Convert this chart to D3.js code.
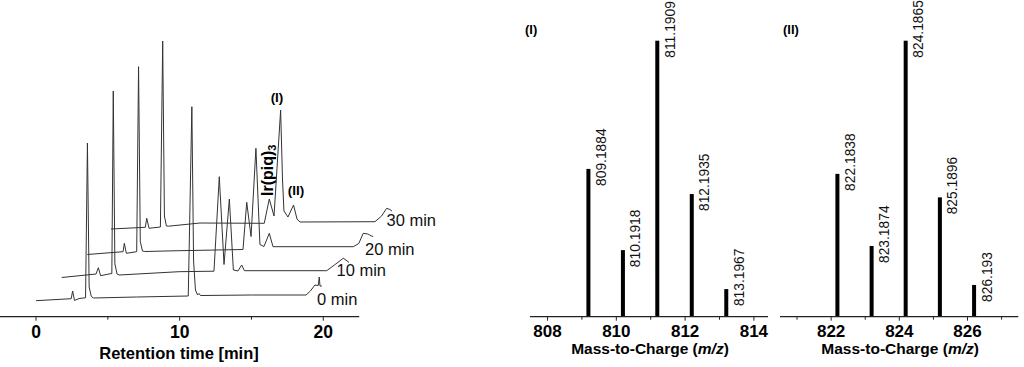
<!DOCTYPE html>
<html>
<head>
<meta charset="utf-8">
<script src="https://cdn.jsdelivr.net/npm/d3@7"></script>
<style>
  html, body { margin: 0; padding: 0; background: #fff; }
  svg { display: block; font-family: "Liberation Sans", Arial, sans-serif; }
</style>
</head>
<body>
<svg id="chart" width="1024" height="367"></svg>
<script>
// ---------------- data ----------------
const timeTicks = [0, 10, 20];
const timeMinorTicks = [5, 15];
const traceLabels = ["0 min", "10 min", "20 min", "30 min"];
const traceTimeOffsets = [0, 1.79, 3.57, 5.22];
const traceSignalOffsets = [0, 23.5, 46.5, 72];

const trace0 = [[0,0.3],[2.45,2.3],[2.55,10],[2.68,0.5],[3.0,2.5],[3.45,3.2],[3.58,158],[3.7,14],[3.85,4.5],[4.0,3],
  [7,4],[10.6,5],[10.85,194.3],[10.97,40],[11.1,11],[11.25,6],[11.35,7.5],[11.45,5.5],[15,6],[18.8,6],
  [19.1,10],[19.42,16],[19.65,15.5],[19.72,24],[19.77,15],[19.9,15]];
const trace10 = [[0,0],[2.39,3.5],[2.55,9.8],[2.71,1.8],[3.29,3.5],[3.49,4],[3.59,186.5],[3.7,14],[3.85,3.5],[4.0,2.5],
  [8.17,5.8],[10.6,6.3],[10.97,100.8],[11.3,13],[11.67,78.5],[11.95,7.5],[12.27,6.5],[12.53,12.5],[12.72,6.8],
  [18.45,6.8],[19.03,13],[19.6,19.2],[19.79,17.5],[20.0,15]];
const trace20 = [[0,0],[2.49,2.8],[2.58,11.2],[2.72,1.2],[3.44,2.8],[3.57,187.8],[3.69,13],[3.84,3.5],[4.0,3],
  [6.38,3.8],[10.84,5],[11.1,52.2],[11.4,18],[11.74,106.2],[12.02,10],[12.3,8],[12.67,21.2],[12.93,7.8],
  [18.52,7.8],[18.9,11],[19.21,21.2],[19.53,20.5],[19.66,19.5],[19.9,17.8]];
const trace30 = [[0,0],[2.39,1.7],[2.49,10.7],[2.65,0.7],[3.44,2],[3.6,188],[3.72,13],[3.86,3],[4.0,2.8],
  [6.2,6],[10.67,5.7],[11.02,30],[11.35,13],[11.81,119],[11.94,50],[12.04,18],[12.32,12],[12.71,24],[12.95,10],[13.16,7],
  [18.38,7.3],[18.84,13],[19.19,20.7],[19.42,19.5],[19.56,18]];

const mzI = [809.1884, 810.1918, 811.1909, 812.1935, 813.1967];
const intensityI = [53.6, 24.2, 100, 44.5, 10.1];
const labelsI = ["809.1884", "810.1918", "811.1909", "812.1935", "813.1967"];
const mzTicksI = [808, 810, 812, 814];
const mzMinorTicksI = [809, 811, 813];

const mzII = [822.1838, 823.1874, 824.1865, 825.1896, 826.193];
const intensityII = [51.8, 25.7, 100, 43.3, 11.6];
const labelsII = ["822.1838", "823.1874", "824.1865", "825.1896", "826.193"];
const mzTicksII = [822, 824, 826];
const mzMinorTicksII = [821, 823, 825, 827];

// ---------------- drawing ----------------
const svg = d3.select("#chart");

// ---- Left: chromatogram ----
const xT = d3.scaleLinear().domain([-2.506, 22.5]).range([0, 359.2]);
const yS = d3.scaleLinear().domain([0, 300]).range([301, 1]);
const traces = [trace0, trace10, trace20, trace30];

const gL = svg.append("g");
const line = d3.line()
  .x(d => d[0])
  .y(d => d[1]);

traces.forEach((tr, i) => {
  const pts = tr.map(p => [xT(p[0] + traceTimeOffsets[i]), yS(p[1] + traceSignalOffsets[i])]);
  gL.append("path")
    .attr("d", line(pts))
    .attr("fill", "none")
    .attr("stroke", "#333")
    .attr("stroke-width", 1)
    .attr("stroke-linejoin", "round");
});

// trace labels
const traceLabelPos = [[317, 304.5], [336.5, 276], [365, 254.5], [386.5, 226]];
traceLabels.forEach((t, i) => {
  gL.append("text")
    .attr("x", traceLabelPos[i][0]).attr("y", traceLabelPos[i][1])
    .attr("font-size", 16.5).attr("fill", "#111")
    .text(t);
});

// peak annotations
gL.append("text").attr("x", 277).attr("y", 102)
  .attr("text-anchor", "middle").attr("font-size", 13.5).attr("font-weight", "bold").text("(I)");
gL.append("text").attr("x", 296).attr("y", 194.5)
  .attr("text-anchor", "middle").attr("font-size", 13.5).attr("font-weight", "bold").text("(II)");
const ir = gL.append("text")
  .attr("transform", "translate(272.5,196) rotate(-90)")
  .attr("font-size", 16).attr("font-weight", "bold");
ir.append("tspan").text("Ir(piq)");
ir.append("tspan").attr("font-size", 11).attr("dy", 3).text("3");

// x axis
const axisY = 316.7;
gL.append("line").attr("x1", 0).attr("x2", 359.2).attr("y1", axisY).attr("y2", axisY)
  .attr("stroke", "#222").attr("stroke-width", 1.2);
timeTicks.forEach(t => {
  gL.append("line").attr("x1", xT(t)).attr("x2", xT(t)).attr("y1", axisY).attr("y2", axisY + 4)
    .attr("stroke", "#222").attr("stroke-width", 1);
  gL.append("text").attr("x", xT(t)).attr("y", 338)
    .attr("text-anchor", "middle").attr("font-size", 17.5).attr("font-weight", "bold").text(t);
});
timeMinorTicks.forEach(t => {
  gL.append("line").attr("x1", xT(t)).attr("x2", xT(t)).attr("y1", axisY).attr("y2", axisY + 3)
    .attr("stroke", "#222").attr("stroke-width", 1);
});
gL.append("text").attr("x", 179).attr("y", 358.5)
  .attr("text-anchor", "middle").attr("font-size", 16.5).attr("font-weight", "bold")
  .text("Retention time [min]");

// ---- Mass spectra ----
function massPanel(cfg) {
  const g = svg.append("g");
  const x = d3.scaleLinear().domain(cfg.domain).range(cfg.range);
  const y = d3.scaleLinear().domain([0, 100]).range([317, 40.7]);
  const ay = 316.7;
  g.selectAll("rect.bar").data(cfg.mz).enter().append("rect")
    .attr("x", d => x(d) - 2).attr("width", 4)
    .attr("y", (d, i) => y(cfg.intensity[i]))
    .attr("height", (d, i) => y(0) - y(cfg.intensity[i]))
    .attr("fill", "#000");
  g.selectAll("text.lab").data(cfg.mz).enter().append("text")
    .attr("transform", (d, i) => `translate(${x(d) + 17.5},${y(cfg.intensity[i]) + 17}) rotate(-90)`)
    .attr("font-size", 13.8).attr("fill", "#111")
    .text((d, i) => cfg.labels[i]);
  g.append("line").attr("x1", cfg.range[0]).attr("x2", cfg.range[1]).attr("y1", ay).attr("y2", ay)
    .attr("stroke", "#222").attr("stroke-width", 1.2);
  cfg.ticks.forEach(t => {
    g.append("line").attr("x1", x(t)).attr("x2", x(t)).attr("y1", ay).attr("y2", ay + 4)
      .attr("stroke", "#222").attr("stroke-width", 1);
    g.append("text").attr("x", x(t)).attr("y", 337)
      .attr("text-anchor", "middle").attr("font-size", 17).attr("font-weight", "bold").text(t);
  });
  cfg.minor.forEach(t => {
    g.append("line").attr("x1", x(t)).attr("x2", x(t)).attr("y1", ay).attr("y2", ay + 3)
      .attr("stroke", "#222").attr("stroke-width", 1);
  });
  const title = g.append("text").attr("x", (cfg.range[0] + cfg.range[1]) / 2 + 1).attr("y", 354)
    .attr("text-anchor", "middle").attr("font-size", 15.5).attr("font-weight", "bold");
  title.append("tspan").text("Mass-to-Charge (");
  title.append("tspan").attr("font-style", "italic").text("m/z");
  title.append("tspan").text(")");
  g.append("text").attr("x", cfg.tagX).attr("y", 33.5)
    .attr("font-size", 13).attr("font-weight", "bold").text(cfg.tag);
}

massPanel({ domain: [807.49, 814.41], range: [530, 768], mz: mzI, intensity: intensityI,
  labels: labelsI, ticks: mzTicksI, minor: mzMinorTicksI, tag: "(I)", tagX: 525 });
massPanel({ domain: [820.5, 827.49], range: [780, 1018.3], mz: mzII, intensity: intensityII,
  labels: labelsII, ticks: mzTicksII, minor: mzMinorTicksII, tag: "(II)", tagX: 783 });
</script>
</body>
</html>
